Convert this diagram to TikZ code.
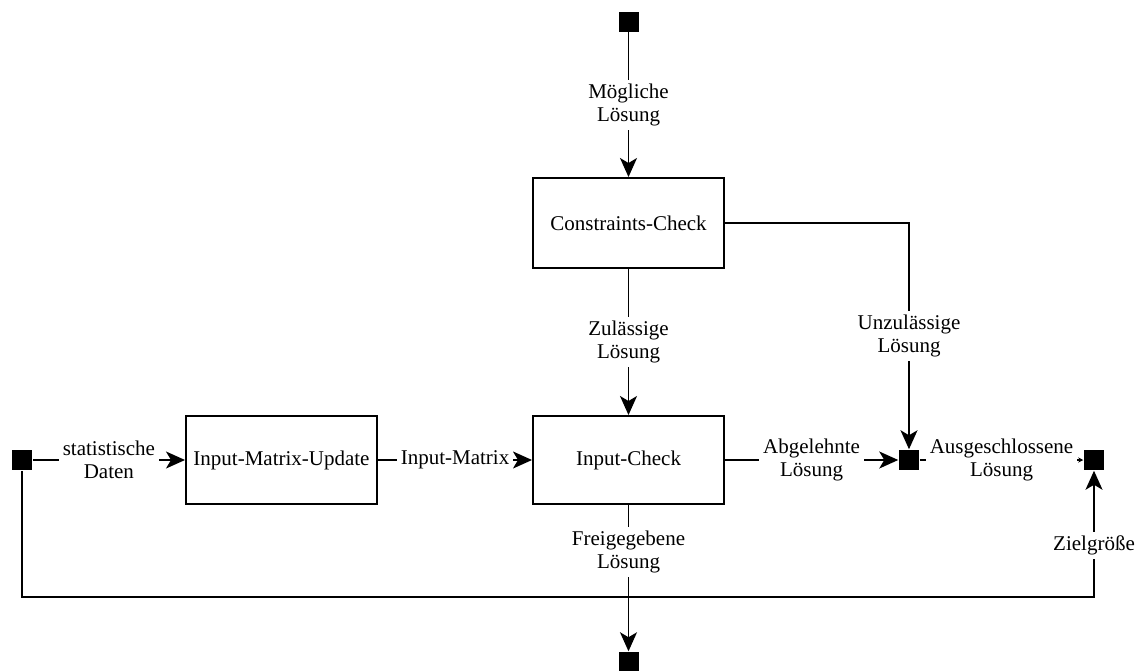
\documentclass[tikz,border=0pt]{standalone}
\usepackage{fontspec}
\setmainfont{Liberation Serif}
\usetikzlibrary{arrows.meta}
\begin{document}
\begin{tikzpicture}[x=1pt,y=-1pt, line width=1.5pt,
  every node/.style={font=\fontsize{21}{23}\selectfont},
  blk/.style={draw, line width=2pt, rectangle, align=center, inner sep=0pt,
    minimum width=191pt, minimum height=88pt},
  port/.style={fill=black, draw=none, minimum size=20pt, inner sep=0pt},
  lbl/.style={fill=white, align=center, inner sep=4pt},
  flow/.style={-{Stealth[length=19pt,width=17pt,inset=5pt]}},
  tinyflow/.style={-{Stealth[length=5pt,width=5pt]}}]
\useasboundingbox (0,0) rectangle (1141,670);

% ports
\node[port] (top) at (628.5,21.5) {};
\node[port] (lsq) at (22,460) {};
\node[port] (jn)  at (909,460) {};
\node[port] (rsq) at (1094,460) {};
\node[port] (bsq) at (628.5,662) {};

% blocks
\node[blk, minimum height=90pt] (cc) at (628.5,223) {Constraints-Check};
\node[blk] (ic)  at (628.5,460) {Input-Check};
\node[blk] (imu) at (281.5,460) {Input-Matrix-Update};

% flows
\draw[flow] (top.south) -- node[lbl]{Mögliche\\Lösung} (cc.north);
\draw[flow] (cc.south) -- node[lbl]{Zulässige\\Lösung} (ic.north);
\draw[flow] (cc.east) -| node[lbl, pos=0.75]{Unzulässige\\Lösung} (jn.north);
\draw[flow] (lsq.east) -- node[lbl]{statistische\\Daten} (imu.west);
\draw[flow] (imu.east) -- node[lbl]{Input-Matrix} (ic.west);
\draw[flow] (ic.east) -- node[lbl]{Abgelehnte\\Lösung} (jn.west);
\draw[tinyflow] (jn.east) -- node[lbl]{Ausgeschlossene\\Lösung} (rsq.west);
\draw[flow] (ic.south) -- node[lbl, pos=0.32]{Freigegebene\\Lösung} (bsq.north);

% feedback loop
\coordinate (fb) at (0,597);
\draw[flow] (lsq.south) -- (lsq.south |- fb) -- (rsq.south |- fb)
  -- node[lbl, pos=0.41]{Zielgröße} (rsq.south);
\end{tikzpicture}
\end{document}
